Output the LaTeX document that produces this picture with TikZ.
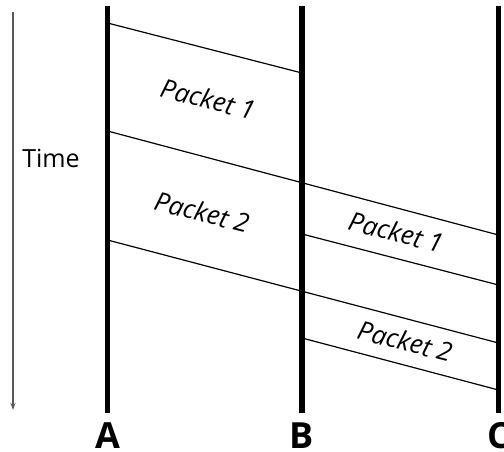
\documentclass[tikz,border=0pt]{standalone}
\usepackage{fontspec}
\setmainfont{Open Sans}
\usetikzlibrary{arrows.meta}
\begin{document}
\begin{tikzpicture}[x=1pt,y=-1pt,
  lifeline/.style={line width=5.5pt},
  msg/.style={line width=1.2pt},
  lbl/.style={font=\fontsize{26}{30}\selectfont\itshape, rotate=-14.4, inner sep=0pt},
  host/.style={font=\fontsize{36}{40}\selectfont\bfseries, anchor=base, inner sep=0pt},
  timearrow/.style={draw=black!65, line width=1.1pt, -{Stealth[length=7pt,width=5pt]}}]
\useasboundingbox (0,0) rectangle (504,452);
% lifelines
\coordinate (At) at (107.5,6);   \coordinate (Ab) at (107.5,413);
\coordinate (Bt) at (302,6);     \coordinate (Bb) at (302,413);
\coordinate (Ct) at (498.5,6);   \coordinate (Cb) at (498.5,413);
\draw[lifeline] (At) -- (Ab);
\draw[lifeline] (Bt) -- (Bb);
\draw[lifeline] (Ct) -- (Cb);
% message endpoints
\coordinate (a1) at (107.5,23);  \coordinate (b1) at (302,73);
\coordinate (a2) at (107.5,131); \coordinate (c2) at (498.5,235);
\coordinate (b3) at (302,234);   \coordinate (c3) at (498.5,285);
\coordinate (a4) at (107.5,240); \coordinate (c4) at (498.5,343);
\coordinate (b5) at (302,338);   \coordinate (c5) at (498.5,390);
\draw[msg] (a1) -- (b1);
\draw[msg] (a2) -- (c2);
\draw[msg] (b3) -- (c3);
\draw[msg] (a4) -- (c4);
\draw[msg] (b5) -- (c5);
% labels
\node[lbl] (p1ab) at (208,99) {Packet 1};
\node[lbl] (p2ab) at (202,212) {Packet 2};
\node[lbl] (p1bc) at (396,232) {Packet 1};
\node[lbl] (p2bc) at (405,341) {Packet 2};
% time arrow
\coordinate (tt) at (13,12); \coordinate (tb) at (13,410);
\draw[timearrow] (tt) -- (tb);
\node[font=\fontsize{25}{30}\selectfont, inner sep=0pt] (time) at (51,158) {Time};
% hosts
\node[host] (A) at (107.5,448) {A};
\node[host] (B) at (302,448) {B};
\node[host] (C) at (498.5,448) {C};
\end{tikzpicture}
\end{document}
